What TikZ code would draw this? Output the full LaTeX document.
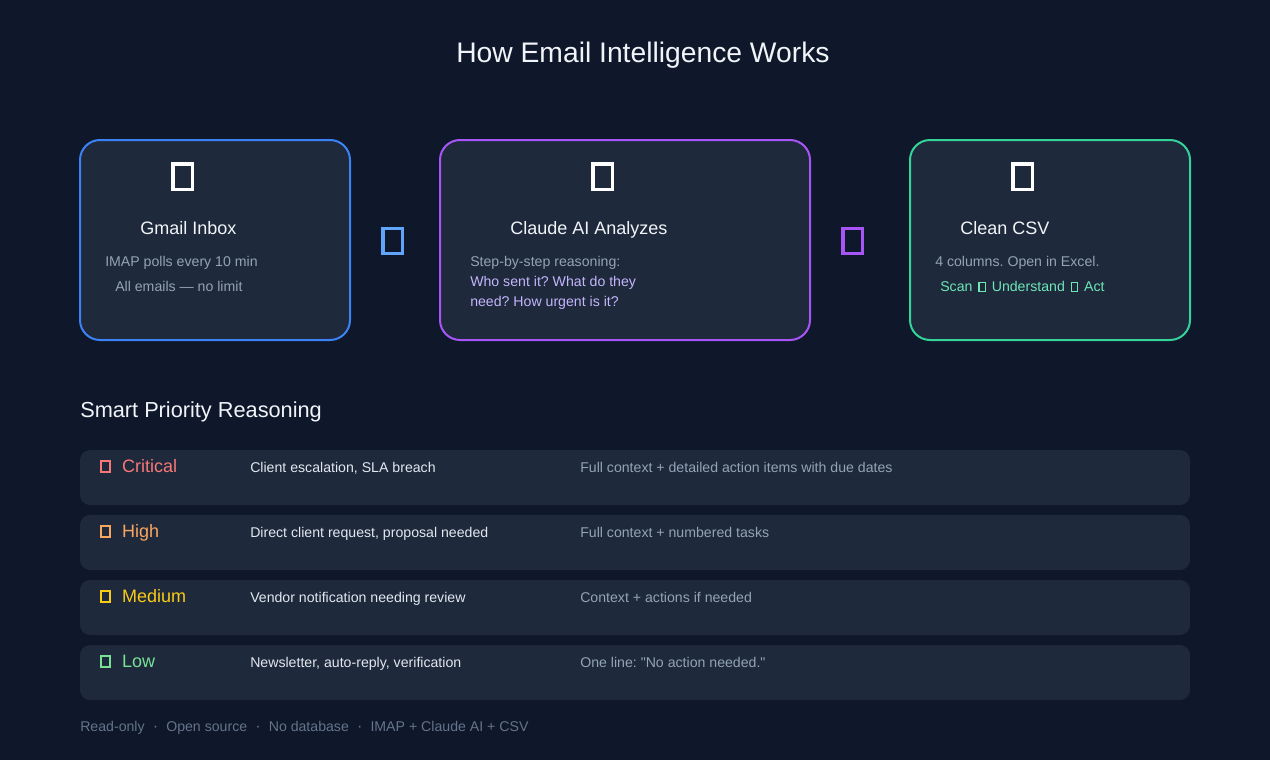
\documentclass[tikz,border=0pt]{standalone}
\usepackage{fontspec}
\setmainfont{Liberation Sans}[Ligatures=TeXOff]
\usepackage{tikz}
\usetikzlibrary{positioning}
\frenchspacing
\definecolor{pagebg}{RGB}{15,23,42}
\definecolor{cardbg}{RGB}{30,41,59}
\definecolor{mainblue}{RGB}{59,130,246}
\definecolor{lightblue}{RGB}{96,165,250}
\definecolor{deeppurple}{RGB}{168,85,247}
\definecolor{softlilac}{RGB}{196,181,253}
\definecolor{mintgreen}{RGB}{52,211,153}
\definecolor{palemint}{RGB}{110,231,183}
\definecolor{slategray}{RGB}{148,163,184}
\definecolor{dimgray}{RGB}{100,116,139}
\definecolor{offwhite}{RGB}{241,245,249}
\definecolor{rowwhite}{RGB}{226,232,240}
\definecolor{critred}{RGB}{248,120,120}
\definecolor{highorange}{RGB}{251,166,96}
\definecolor{medyellow}{RGB}{250,204,21}
\definecolor{lowgreen}{RGB}{120,225,150}
\newcommand{\tofuchar}{\raisebox{0.9pt}{\setlength{\fboxsep}{0pt}\setlength{\fboxrule}{0.9pt}\fbox{\rule{0pt}{5.6pt}\hspace{3.8pt}}}}
\newcommand{\footsep}{\hspace{6.1pt}{\large·}\hspace{6.1pt}}
\tikzset{
  card/.style={rounded corners=15pt,line width=1.5pt,fill=cardbg,minimum height=150pt,inner sep=0pt},
  rowbox/.style={rounded corners=7.5pt,fill=cardbg,minimum width=832.5pt,minimum height=41.25pt,inner sep=0pt},
  bigtofu/.style={draw,line width=2.6pt,minimum width=14.6pt,minimum height=19.1pt,inner sep=0pt},
  smalltofu/.style={draw,line width=1.5pt,minimum width=6.4pt,minimum height=7.8pt,inner sep=0pt},
  txt/.style={inner sep=0pt,anchor=base west}
}

\begin{document}
\begin{tikzpicture}[
  x=0.75pt,y=-0.75pt,
  heading/.style={txt,font=\fontsize{21.2}{25}\selectfont,text=offwhite},
  section/.style={txt,font=\fontsize{16.3}{20}\selectfont,text=offwhite},
  cardtitle/.style={txt,font=\fontsize{13.5}{16}\selectfont,text=offwhite},
  note/.style={txt,font=\fontsize{10.6}{13}\selectfont,text=slategray},
  label/.style={txt,font=\fontsize{13.5}{16}\selectfont}
]

  \fill[pagebg] (0,0) rectangle (1270,760);
  \useasboundingbox (0,0) rectangle (1270,760);

  \node[heading] (title) at (456,62.3) {How Email Intelligence Works};

  % pipeline cards
  \node[card,draw=mainblue,minimum width=202.5pt] (inbox) at (215,240) {};
  \node[card,draw=deeppurple,minimum width=277.5pt] (claude) at (625,240) {};
  \node[card,draw=mintgreen,minimum width=210pt] (csv) at (1050,240) {};

  \node[bigtofu,draw=white] (inboxicon) at (182.5,176.5) {};
  \node[bigtofu,draw=white] (claudeicon) at (602.5,176.5) {};
  \node[bigtofu,draw=white] (csvicon) at (1022.5,176.5) {};

  \node[bigtofu,draw=lightblue] (flowA) at (392.5,241) {};
  \node[bigtofu,draw=deeppurple] (flowB) at (852.5,241) {};

  \node[cardtitle] (inboxtitle) at (140,234) {Gmail Inbox};
  \node[note] (inboxnoteA) at (105,266.7) {IMAP polls every 10 min};
  \node[note] (inboxnoteB) at (115,291.7) {All emails — no limit};

  \node[cardtitle] (claudetitle) at (510,234) {Claude AI Analyzes};
  \node[note] (claudenoteA) at (470,266.7) {Step-by-step reasoning:};
  \node[note,text=softlilac] (claudenoteB) at (470,286.7) {Who sent it? What do they};
  \node[note,text=softlilac] (claudenoteC) at (470,306.7) {need? How urgent is it?};

  \node[cardtitle] (csvtitle) at (960,234) {Clean CSV};
  \node[note] (csvnoteA) at (935,266.7) {4 columns. Open in Excel.};
  \node[note,text=palemint] (csvnoteB) at (940,291.7)
    {Scan \hspace{1.5pt}\tofuchar\hspace{1.5pt} Understand \hspace{1.5pt}\tofuchar\hspace{1.5pt} Act};

  % priority rows
  \node[section] (prioritytitle) at (80,417.8) {Smart Priority Reasoning};

  \foreach \i/\lab/\col/\why/\what in {
    0/Critical/critred/{Client escalation, SLA breach}/{Full context + detailed action items with due dates},
    1/High/highorange/{Direct client request, proposal needed}/{Full context + numbered tasks},
    2/Medium/medyellow/{Vendor notification needing review}/{Context + actions if needed},
    3/Low/lowgreen/{Newsletter, auto-reply, verification}/{One line: "No action needed."}
  }{
    \node[rowbox] (row\i) at (635,{477.5+65*\i}) {};
    \node[smalltofu,draw=\col] (rowicon\i) at (105.7,{466.5+65*\i}) {};
    \node[label,text=\col] (rowlabel\i) at (121.8,{472.3+65*\i}) {\lab};
    \node[note,text=rowwhite] (rowwhy\i) at (250,{472+65*\i}) {\why};
    \node[note] (rowwhat\i) at (580,{472+65*\i}) {\what};
  }

  \node[note,text=dimgray] (footer) at (80,731.7)
    {Read-only\footsep Open source\footsep No database\footsep IMAP + Claude AI + CSV};

\end{tikzpicture}
\end{document}
